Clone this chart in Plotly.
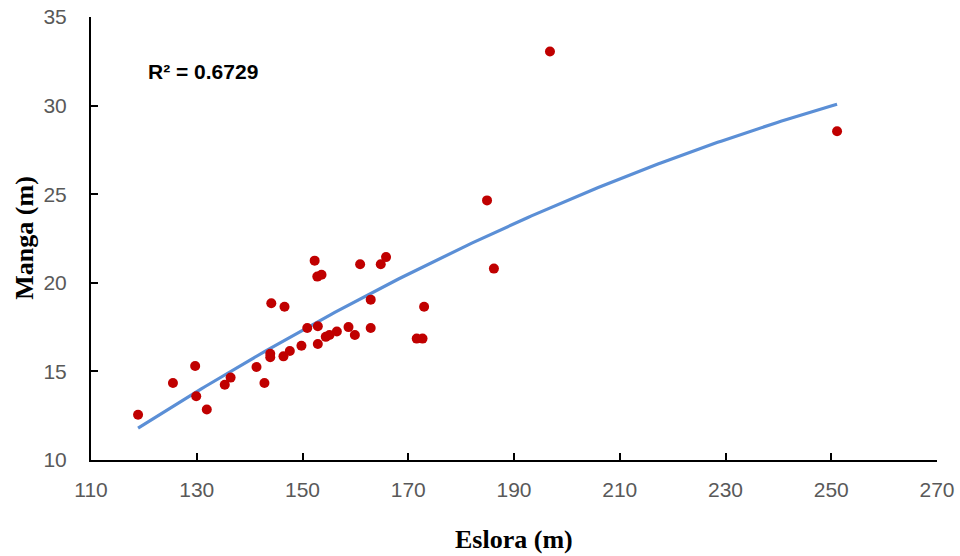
import numpy as np
import plotly.graph_objects as go

eslora = [118.9, 125.5, 129.7, 129.9, 131.9, 135.3, 136.4, 141.3, 142.8, 144.1,
          143.9, 143.9, 146.6, 146.4, 147.6, 149.8, 150.9, 152.3, 152.8, 153.6,
          152.9, 152.9, 154.4, 155.1, 156.5, 158.7, 159.9, 160.9, 162.9, 162.9,
          164.8, 165.8, 171.6, 172.7, 173.0, 184.9, 186.2, 196.8, 251.1]
manga = [12.55, 14.35, 15.3, 13.6, 12.85, 14.25, 14.65, 15.25, 14.35, 18.85,
         16.0, 15.8, 18.65, 15.85, 16.15, 16.45, 17.45, 21.25, 20.35, 20.45,
         17.55, 16.55, 16.95, 17.05, 17.25, 17.5, 17.05, 21.05, 19.05, 17.45,
         21.05, 21.45, 16.85, 16.85, 18.65, 24.65, 20.8, 33.05, 28.55]
x_ticks = [110, 130, 150, 170, 190, 210, 230, 250, 270]
y_ticks = [10, 15, 20, 25, 30, 35]
r2_label = "R² = 0.6729"
x_title = "Eslora (m)"
y_title = "Manga (m)"

coef = np.polyfit(eslora, manga, 2)
xs = np.linspace(min(eslora), max(eslora), 200)
ys = np.polyval(coef, xs)

fig = go.Figure()
fig.add_trace(go.Scatter(x=xs, y=ys, mode="lines",
                         line=dict(color="#5B8FD6", width=3.2), hoverinfo="skip"))
fig.add_trace(go.Scatter(x=eslora, y=manga, mode="markers",
                         marker=dict(color="#C00000", size=10)))

fig.add_annotation(x=120.4, y=31.92, text="<b>" + r2_label + "</b>", showarrow=False,
                   xanchor="left", yanchor="middle",
                   font=dict(family="Liberation Sans, Arial", size=21, color="black"))

title_font = dict(family="Liberation Serif, Times New Roman", size=26, color="black")
fig.add_annotation(xref="paper", yref="paper", x=0.5, y=-0.18, text="<b>" + x_title + "</b>",
                   showarrow=False, xanchor="center", yanchor="middle", font=title_font)
fig.add_annotation(xref="paper", yref="paper", x=-0.079, y=0.5, text="<b>" + y_title + "</b>",
                   showarrow=False, xanchor="center", yanchor="middle", textangle=-90,
                   font=title_font)

tick_font = dict(family="Liberation Sans, Arial", size=21, color="#595959")
fig.update_layout(
    width=960, height=556,
    margin=dict(l=91, r=23, t=17, b=96),
    paper_bgcolor="white", plot_bgcolor="white",
    showlegend=False,
    xaxis=dict(range=[110, 270], tickvals=x_ticks, showgrid=False, zeroline=False,
               showline=True, linecolor="black", linewidth=2, automargin=False,
               ticks="inside", ticklen=7, tickwidth=1.5, tickcolor="black",
               ticklabelstandoff=10, tickfont=tick_font),
    yaxis=dict(range=[10, 35], tickvals=y_ticks, showgrid=False, zeroline=False,
               showline=True, linecolor="black", linewidth=2, automargin=False,
               ticks="inside", ticklen=7, tickwidth=1.5, tickcolor="black",
               ticklabelstandoff=18, tickfont=tick_font),
)

fig.write_html("out.html", config={"displayModeBar": False},
               post_script="document.body.style.margin='0';document.body.style.overflow='hidden';")
